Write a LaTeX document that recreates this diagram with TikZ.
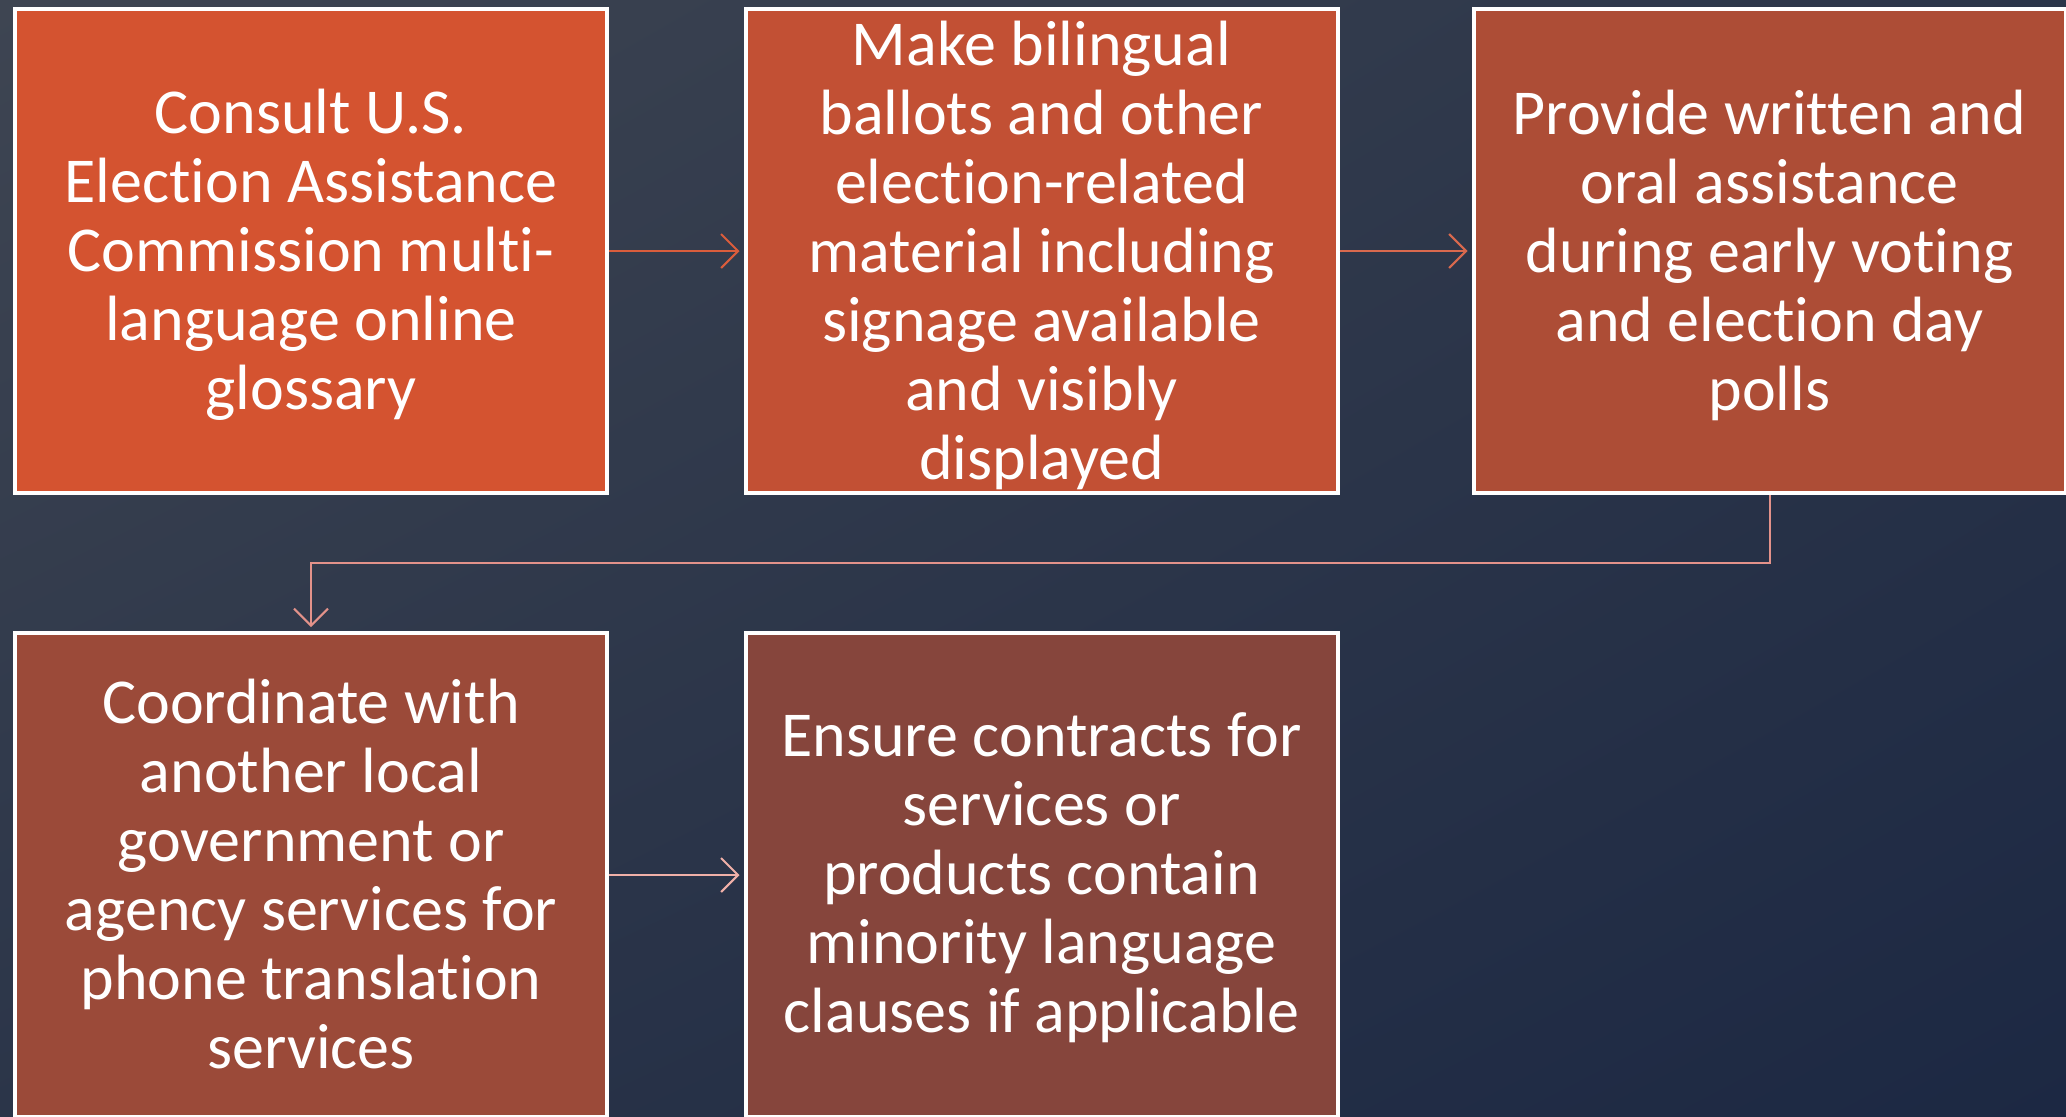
\documentclass[tikz,border=0pt]{standalone}
\usepackage{fontspec}
\setmainfont[Ligatures=NoCommon]{Carlito}
\usetikzlibrary{arrows.meta,shadings}
\definecolor{bgA}{HTML}{3E4552}
\definecolor{bgB}{HTML}{2B3549}
\definecolor{bgC}{HTML}{1C2843}
\definecolor{boxA}{HTML}{D45330}
\definecolor{boxB}{HTML}{C25034}
\definecolor{boxC}{HTML}{AD4D36}
\definecolor{boxD}{HTML}{9B4A39}
\definecolor{boxE}{HTML}{86453C}
\definecolor{arrA}{HTML}{DA5D3C}
\definecolor{arrB}{HTML}{D9694E}
\definecolor{arrC}{HTML}{E3928A}
\definecolor{arrD}{HTML}{F0B0A8}
\tikzset{
  stepbox/.style={draw=white, line width=2pt, rectangle, inner sep=0pt,
    minimum width=296pt, minimum height=242pt},
  steptext/.style={text=white, align=center, inner sep=0pt,
    font=\fontsize{32}{34.5}\selectfont},
  flow/.style={line width=1pt, -{Straight Barb[length=8.5pt,width=17pt,line width=1pt]}, shorten >=2pt}
}
\begin{document}
\begin{tikzpicture}[x=0.5pt,y=-0.5pt]
\useasboundingbox (0,0) rectangle (2066,1116);
\clip (0,0) rectangle (2066,1116);
\shade[upper left=bgA, upper right=bgB, lower left=bgB, lower right=bgC] (0,0) rectangle (2066,1116);
\node[stepbox, fill=boxA] (b1) at (311,251) {};
\node[stepbox, fill=boxB] (b2) at (1041.5,251) {};
\node[stepbox, fill=boxC] (b3) at (1769.5,251) {};
\node[stepbox, fill=boxD] (b4) at (311,875) {};
\node[stepbox, fill=boxE] (b5) at (1041.5,875) {};
\node[steptext, yshift=-2pt] (t1) at (b1.center) {Consult U.S.\\Election Assistance\\Commission multi-\\language online\\glossary};
\node[steptext, yshift=-2pt] (t2) at (b2.center) {Make bilingual\\ballots and other\\election-related\\material including\\signage available\\and visibly\\displayed};
\node[steptext, yshift=-2pt] (t3) at (b3.center) {Provide written and\\oral assistance\\during early voting\\and election day\\polls};
\node[steptext, yshift=0.5pt] (t4) at (b4.center) {Coordinate with\\another local\\government or\\agency services for\\phone translation\\services};
\node[steptext, yshift=-1.5pt] (t5) at (b5.center) {Ensure contracts for\\services or\\products contain\\minority language\\clauses if applicable};
\draw[flow, draw=arrA] (b1.east) -- (b2.west);
\draw[flow, draw=arrB] (b2.east) -- (b3.west);
\draw[flow, draw=arrC] (b3.south) -- ++(0,68) -| (b4.north);
\draw[flow, draw=arrD] (b4.east) -- (b5.west);
\end{tikzpicture}
\end{document}
